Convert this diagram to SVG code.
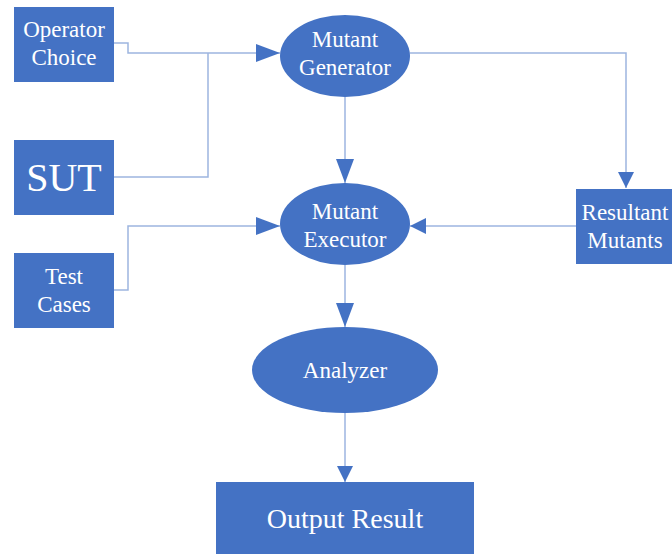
<svg xmlns="http://www.w3.org/2000/svg" width="672" height="554" viewBox="0 0 672 554">
<defs>
<style>
.box{fill:#4472C4;}
.t{fill:#FFFFFF;text-anchor:middle;font-size:23px;font-family:"Times New Roman",Times,"Liberation Serif","DejaVu Serif",serif;}
.ln{fill:none;stroke:#9DB5E0;stroke-width:1.5;}
</style>
<marker id="aL" markerUnits="userSpaceOnUse" markerWidth="24" markerHeight="18" refX="24" refY="9" orient="auto" viewBox="0 0 24 18">
<path d="M0,0 L24,9 L0,18 Z" fill="#4472C4"/>
</marker>
<marker id="aS" markerUnits="userSpaceOnUse" markerWidth="16" markerHeight="16" refX="16" refY="8" orient="auto" viewBox="0 0 16 16">
<path d="M0,0 L16,8 L0,16 Z" fill="#4472C4"/>
</marker>
</defs>
<rect width="672" height="554" fill="#FFFFFF"/>
<g id="connectors">
<path class="ln" d="M114,43 H128 V53 H280" marker-end="url(#aL)"/>
<path class="ln" d="M114,177 H208 V53"/>
<path class="ln" d="M345,97 V183" marker-end="url(#aL)"/>
<path class="ln" d="M410,53 H626 V188" marker-end="url(#aS)"/>
<path class="ln" d="M576,226 H410" marker-end="url(#aS)"/>
<path class="ln" d="M114,290 H128 V226 H280" marker-end="url(#aL)"/>
<path class="ln" d="M345,265 V327" marker-end="url(#aL)"/>
<path class="ln" d="M345,413 V482" marker-end="url(#aS)"/>
</g>
<g id="operator-choice">
<rect class="box" x="14" y="7" width="100" height="75"/>
<text class="t" x="64" y="37">Operator</text>
<text class="t" x="64" y="65">Choice</text>
</g>
<g id="sut">
<rect class="box" x="14" y="140" width="100" height="75"/>
<text class="t" x="64" y="191" style="font-size:40px">SUT</text>
</g>
<g id="test-cases">
<rect class="box" x="14" y="253" width="100" height="75"/>
<text class="t" x="64" y="284">Test</text>
<text class="t" x="64" y="312">Cases</text>
</g>
<g id="mutant-generator">
<ellipse class="box" cx="345" cy="56" rx="65" ry="41"/>
<text class="t" x="345" y="47">Mutant</text>
<text class="t" x="345" y="75">Generator</text>
</g>
<g id="mutant-executor">
<ellipse class="box" cx="345" cy="224" rx="65" ry="41"/>
<text class="t" x="345" y="219">Mutant</text>
<text class="t" x="345" y="247">Executor</text>
</g>
<g id="resultant-mutants">
<rect class="box" x="576" y="189" width="96" height="75"/>
<text class="t" x="625" y="220">Resultant</text>
<text class="t" x="625" y="248">Mutants</text>
</g>
<g id="analyzer">
<ellipse class="box" cx="345" cy="370" rx="93" ry="43"/>
<text class="t" x="345" y="378">Analyzer</text>
</g>
<g id="output-result">
<rect class="box" x="216" y="482" width="258" height="72"/>
<text class="t" x="345" y="528" style="font-size:28px">Output Result</text>
</g>
</svg>
